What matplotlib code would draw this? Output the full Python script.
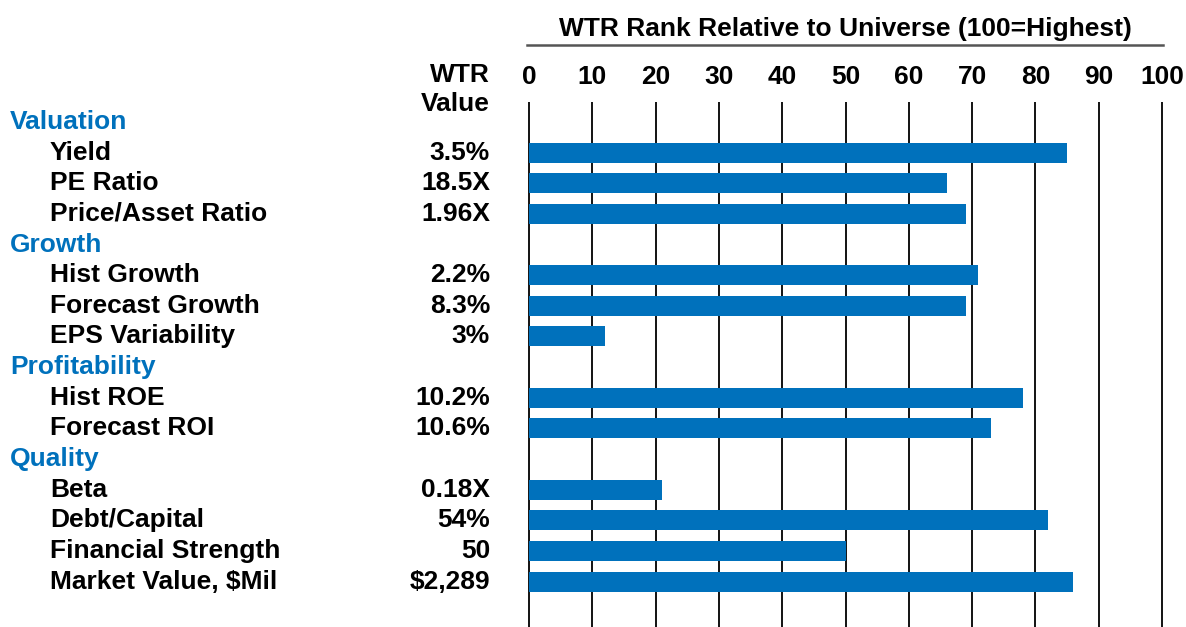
import matplotlib.pyplot as plt
import matplotlib.transforms as mtransforms
from matplotlib.lines import Line2D

plt.rcParams['font.family'] = ['Liberation Sans', 'DejaVu Sans']
plt.rcParams['font.weight'] = 'bold'

# data
groups = ['Valuation', 'Growth', 'Profitability', 'Quality']
group_items = [
    ['Yield', 'PE Ratio', 'Price/Asset Ratio'],
    ['Hist Growth', 'Forecast Growth', 'EPS Variability'],
    ['Hist ROE', 'Forecast ROI'],
    ['Beta', 'Debt/Capital', 'Financial Strength', 'Market Value, $Mil'],
]
group_values = [
    ['3.5%', '18.5X', '1.96X'],
    ['2.2%', '8.3%', '3%'],
    ['10.2%', '10.6%'],
    ['0.18X', '54%', '50', '$2,289'],
]
group_ranks = [
    [85, 66, 69],
    [71, 69, 12],
    [78, 73],
    [21, 82, 50, 86],
]
ticks = [0, 10, 20, 30, 40, 50, 60, 70, 80, 90, 100]

blue = '#0071BC'
fs = 19
W, H = 1186, 627
fig = plt.figure(figsize=(W / 100, H / 100), dpi=100)
xpad = 0.3
ax = fig.add_axes([(529 - xpad * 6.33) / W, 0, (633 + 2 * xpad * 6.33) / W, 1 - 102 / H])

# build rows: group header then its items
rows = []
row = 0
for g, items, vals, ranks in zip(groups, group_items, group_values, group_ranks):
    rows.append(('head', g, None, None, row))
    row += 1
    for it, v, r in zip(items, vals, ranks):
        rows.append(('item', it, v, r, row))
        row += 1

bar_y = [r[4] for r in rows if r[0] == 'item']
bar_w = [r[3] for r in rows if r[0] == 'item']
ax.barh(bar_y, bar_w, height=0.65, color=blue, zorder=2)

ax.set_xlim(-xpad, 100 + xpad)
ax.set_ylim(16.48, -0.65)
ax.set_xticks(ticks)
ax.set_xticklabels([str(t) for t in ticks])
ax.xaxis.tick_top()
ax.tick_params(axis='x', length=0, pad=9.5, labelsize=fs)
ax.set_yticks([])
for s in ax.spines.values():
    s.set_visible(False)
ax.grid(axis='x', color='black', lw=1.3, zorder=0)
ax.set_axisbelow(True)

# left side labels
tr = mtransforms.blended_transform_factory(fig.transFigure, ax.transData)
for kind, name, val, rank, y in rows:
    if kind == 'head':
        fig.text(10 / W, y, name, transform=tr, color=blue, fontsize=fs,
                 va='center', ha='left')
    else:
        fig.text(50 / W, y, name, transform=tr, color='black', fontsize=fs,
                 va='center', ha='left')
        fig.text(490 / W, y, val, transform=tr, color='black', fontsize=fs,
                 va='center', ha='right')

# column header and title
fig.text(490 / W, 1 - 75 / H, 'WTR', fontsize=fs, ha='right', va='center')
fig.text(490 / W, 1 - 104 / H, 'Value', fontsize=fs, ha='right', va='center')
fig.text(845 / W, 1 - 29 / H, 'WTR Rank Relative to Universe (100=Highest)',
         fontsize=fs, ha='center', va='center')
fig.add_artist(Line2D([527 / W, 1163 / W], [1 - 45 / H, 1 - 45 / H],
                      transform=fig.transFigure, color='#555555', lw=1.8))

fig.savefig('out.png', dpi=100)
